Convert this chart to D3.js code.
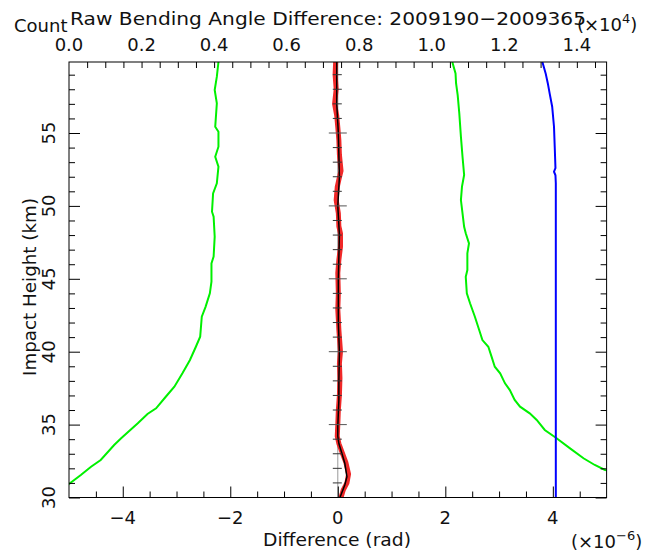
<!DOCTYPE html>
<meta charset="utf-8">
<style>
body { margin: 0; background: #fff; }
svg text { font-family: "DejaVu Sans", sans-serif; fill: #111; }
</style>
<svg width="654" height="552"></svg>
<script src="https://cdn.jsdelivr.net/npm/d3@7/dist/d3.min.js"></script>
<script>
// profiles: [impact height km, value]
var sigmaLow = [[59.87,-2.22],[58.86,-2.25],[57.95,-2.29],[57.04,-2.25],[55.43,-2.28],[55.09,-2.22],[54.06,-2.22],[53.37,-2.28],[52.69,-2.22],[51.55,-2.25],[50.86,-2.32],[49.6,-2.34],[49.26,-2.31],[47.89,-2.29],[46.52,-2.31],[46.06,-2.35],[44.8,-2.35],[44.0,-2.38],[43.08,-2.46],[42.4,-2.53],[41.03,-2.56],[40.34,-2.64],[39.43,-2.75],[38.52,-2.89],[37.6,-3.04],[36.91,-3.2],[36.12,-3.38],[35.73,-3.54],[35.09,-3.72],[34.06,-4.03],[33.6,-4.16],[32.57,-4.41],[32.11,-4.59],[31.54,-4.78],[30.93,-5.0],[30.8,-5.05]]
var sigmaHigh = [[59.87,2.13],[59.09,2.19],[58.4,2.2],[57.6,2.23],[56.35,2.26],[54.75,2.29],[53.37,2.32],[52.12,2.35],[51.32,2.31],[50.4,2.29],[49.49,2.32],[48.57,2.35],[48.12,2.38],[47.43,2.44],[46.75,2.41],[45.6,2.41],[45.14,2.38],[44.0,2.4],[43.32,2.46],[42.4,2.55],[41.49,2.63],[40.8,2.69],[40.34,2.8],[39.66,2.86],[38.97,2.92],[38.52,3.02],[37.83,3.11],[37.37,3.2],[36.69,3.29],[36.23,3.39],[35.77,3.57],[35.32,3.7],[34.63,3.85],[34.06,4.07],[33.37,4.32],[32.69,4.57],[32.23,4.78],[31.89,4.97],[31.85,5.05]]
var median = [[59.87,-0.04],[59.0,-0.05],[58.0,-0.03],[57.0,-0.06],[56.2,-0.02],[55.4,0.0],[54.5,0.02],[53.5,0.03],[52.4,0.06],[51.8,0.02],[51.3,-0.01],[50.4,-0.03],[49.5,0.01],[48.6,0.02],[48.1,0.05],[47.2,0.05],[46.3,0.02],[45.4,0.0],[44.0,0.01],[42.9,0.0],[41.5,0.02],[40.0,0.05],[39.2,0.03],[38.2,0.04],[37.0,0.03],[36.0,0.01],[35.0,0.0],[34.2,-0.01],[33.7,0.02],[33.1,0.08],[32.4,0.15],[31.6,0.2],[31.0,0.17],[30.5,0.1],[30.0,0.06]]
var mean = [[59.87,-0.02],[57,-0.02],[55,0.01],[52,0.03],[50,0.0],[48,0.03],[45,0.01],[42,0.01],[40,0.03],[38,0.02],[36.7,0.02],[34.9,0.0],[34.2,0.0],[33.7,0.02],[33.1,0.07],[32.35,0.13],[31.43,0.17],[30.86,0.13],[30.0,0.04]]
var count = [[59.87,1.305],[59.09,1.314],[58.4,1.32],[57.72,1.325],[56.8,1.332],[55.43,1.337],[54.06,1.339],[52.6,1.341],[52.35,1.337],[52.1,1.341],[51.55,1.342],[30,1.342]]

var diffTicks = [-4, -2, 0, 2, 4]
var countTicks = [0, 0.2, 0.4, 0.6, 0.8, 1.0, 1.2, 1.4]
var heightTicks = [30, 35, 40, 45, 50, 55]

// plot box (avoid window.top etc.)
var pL = 69, pR = 606.6, pT = 62, pB = 497.5

var x = d3.scaleLinear().domain([-5, 5]).range([pL, pR])
var xc = d3.scaleLinear().domain([0, 1.482]).range([pL, pR])
var y = d3.scaleLinear().domain([30, 59.87]).range([pB, pT])

var svg = d3.select('svg')

svg.append('clipPath').attr('id', 'plot')
  .append('rect').attr('x', pL).attr('y', pT)
  .attr('width', pR - pL).attr('height', pB - pT)

// zero line
svg.append('line')
  .attr('x1', x(0)).attr('x2', x(0)).attr('y1', pT).attr('y2', pB)
  .attr('stroke', '#999').attr('stroke-width', 1)

var lineD = d3.line().x(function (d) { return x(d[1]) }).y(function (d) { return y(d[0]) })
var lineC = d3.line().x(function (d) { return xc(d[1]) }).y(function (d) { return y(d[0]) })

var curves = svg.append('g').attr('clip-path', 'url(#plot)').attr('fill', 'none')
curves.append('path').attr('d', lineD(sigmaLow)).attr('stroke', '#00f000').attr('stroke-width', 2)
curves.append('path').attr('d', lineD(sigmaHigh)).attr('stroke', '#00f000').attr('stroke-width', 2)
curves.append('path').attr('d', lineC(count)).attr('stroke', '#0000ff').attr('stroke-width', 2)
curves.append('path').attr('d', lineD(median)).attr('stroke', '#f02828').attr('stroke-width', 5)
curves.append('path').attr('d', lineD(mean)).attr('stroke', '#000').attr('stroke-width', 1.5)

// ticks across the zero line
var minorH = d3.range(31, 60).filter(function (h) { return h % 5 != 0 })
svg.append('g').selectAll('line').data(minorH).enter().append('line')
  .attr('x1', x(0) - 5).attr('x2', x(0) + 4)
  .attr('y1', function (d) { return y(d) }).attr('y2', function (d) { return y(d) })
  .attr('stroke', '#333')
svg.append('g').selectAll('line').data(heightTicks.slice(1)).enter().append('line')
  .attr('x1', x(0) - 9).attr('x2', x(0) + 9)
  .attr('y1', function (d) { return y(d) }).attr('y2', function (d) { return y(d) })
  .attr('stroke', '#555')

// frame
svg.append('rect').attr('x', pL).attr('y', pT)
  .attr('width', pR - pL).attr('height', pB - pT)
  .attr('fill', 'none').attr('stroke', '#000')

function tickAxis(axis, values, size, tx, ty) {
  var g = svg.append('g').attr('transform', 'translate(' + tx + ',' + ty + ')')
    .call(axis.tickValues(values).tickSize(size).tickFormat(''))
  g.select('.domain').remove()
  g.selectAll('line').attr('stroke', '#000')
}

var minorD = d3.range(-4.5, 5, 0.5).filter(function (v) { return v % 2 != 0 })
tickAxis(d3.axisBottom(x), minorD, -6, 0, pB)
tickAxis(d3.axisBottom(x), diffTicks, -11, 0, pB)
tickAxis(d3.axisTop(xc), d3.range(0.05, 1.48, 0.05), -6, 0, pT)
tickAxis(d3.axisLeft(y), minorH, -6, pL, 0)
tickAxis(d3.axisLeft(y), heightTicks, -11, pL, 0)
tickAxis(d3.axisRight(y), minorH, -6, pR, 0)
tickAxis(d3.axisRight(y), heightTicks, -11, pR, 0)

var fs = 18

// tick labels
svg.append('g').selectAll('text').data(countTicks).enter().append('text')
  .attr('x', function (d) { return xc(d) }).attr('y', 51)
  .attr('text-anchor', 'middle').attr('font-size', fs)
  .text(d3.format('.1f'))
svg.append('g').selectAll('text').data(diffTicks).enter().append('text')
  .attr('x', function (d) { return x(d) }).attr('y', 524)
  .attr('text-anchor', 'middle').attr('font-size', fs)
  .text(d3.format('d'))
svg.append('g').selectAll('text').data(heightTicks).enter().append('text')
  .attr('transform', function (d) { return 'translate(55,' + y(d) + ') rotate(-90)' })
  .attr('text-anchor', 'middle').attr('font-size', fs)
  .text(d3.format('d'))

// titles
svg.append('text').attr('x', 14).attr('y', 32).attr('font-size', fs).text('Count')
svg.append('text').attr('x', 70).attr('y', 25).attr('font-size', fs)
  .attr('textLength', 516).attr('lengthAdjust', 'spacingAndGlyphs')
  .text('Raw Bending Angle Difference: 2009190\u22122009365')
var e4 = svg.append('text').attr('x', 577).attr('y', 31).attr('font-size', fs)
e4.append('tspan').text('(\u00d710')
e4.append('tspan').attr('dy', -8).attr('font-size', 13).text('4')
e4.append('tspan').attr('dy', 8).text(')')

svg.append('text').attr('x', 337).attr('y', 546).attr('text-anchor', 'middle')
  .attr('font-size', 17).attr('textLength', 148).attr('lengthAdjust', 'spacingAndGlyphs')
  .text('Difference (rad)')
var e6 = svg.append('text').attr('x', 571).attr('y', 548).attr('font-size', fs)
e6.append('tspan').text('(\u00d710')
e6.append('tspan').attr('dy', -8).attr('font-size', 13).text('\u22126')
e6.append('tspan').attr('dy', 8).text(')')

svg.append('text').attr('transform', 'translate(36,287) rotate(-90)')
  .attr('text-anchor', 'middle').attr('font-size', fs)
  .attr('textLength', 178).attr('lengthAdjust', 'spacingAndGlyphs')
  .text('Impact Height (km)')
</script>
